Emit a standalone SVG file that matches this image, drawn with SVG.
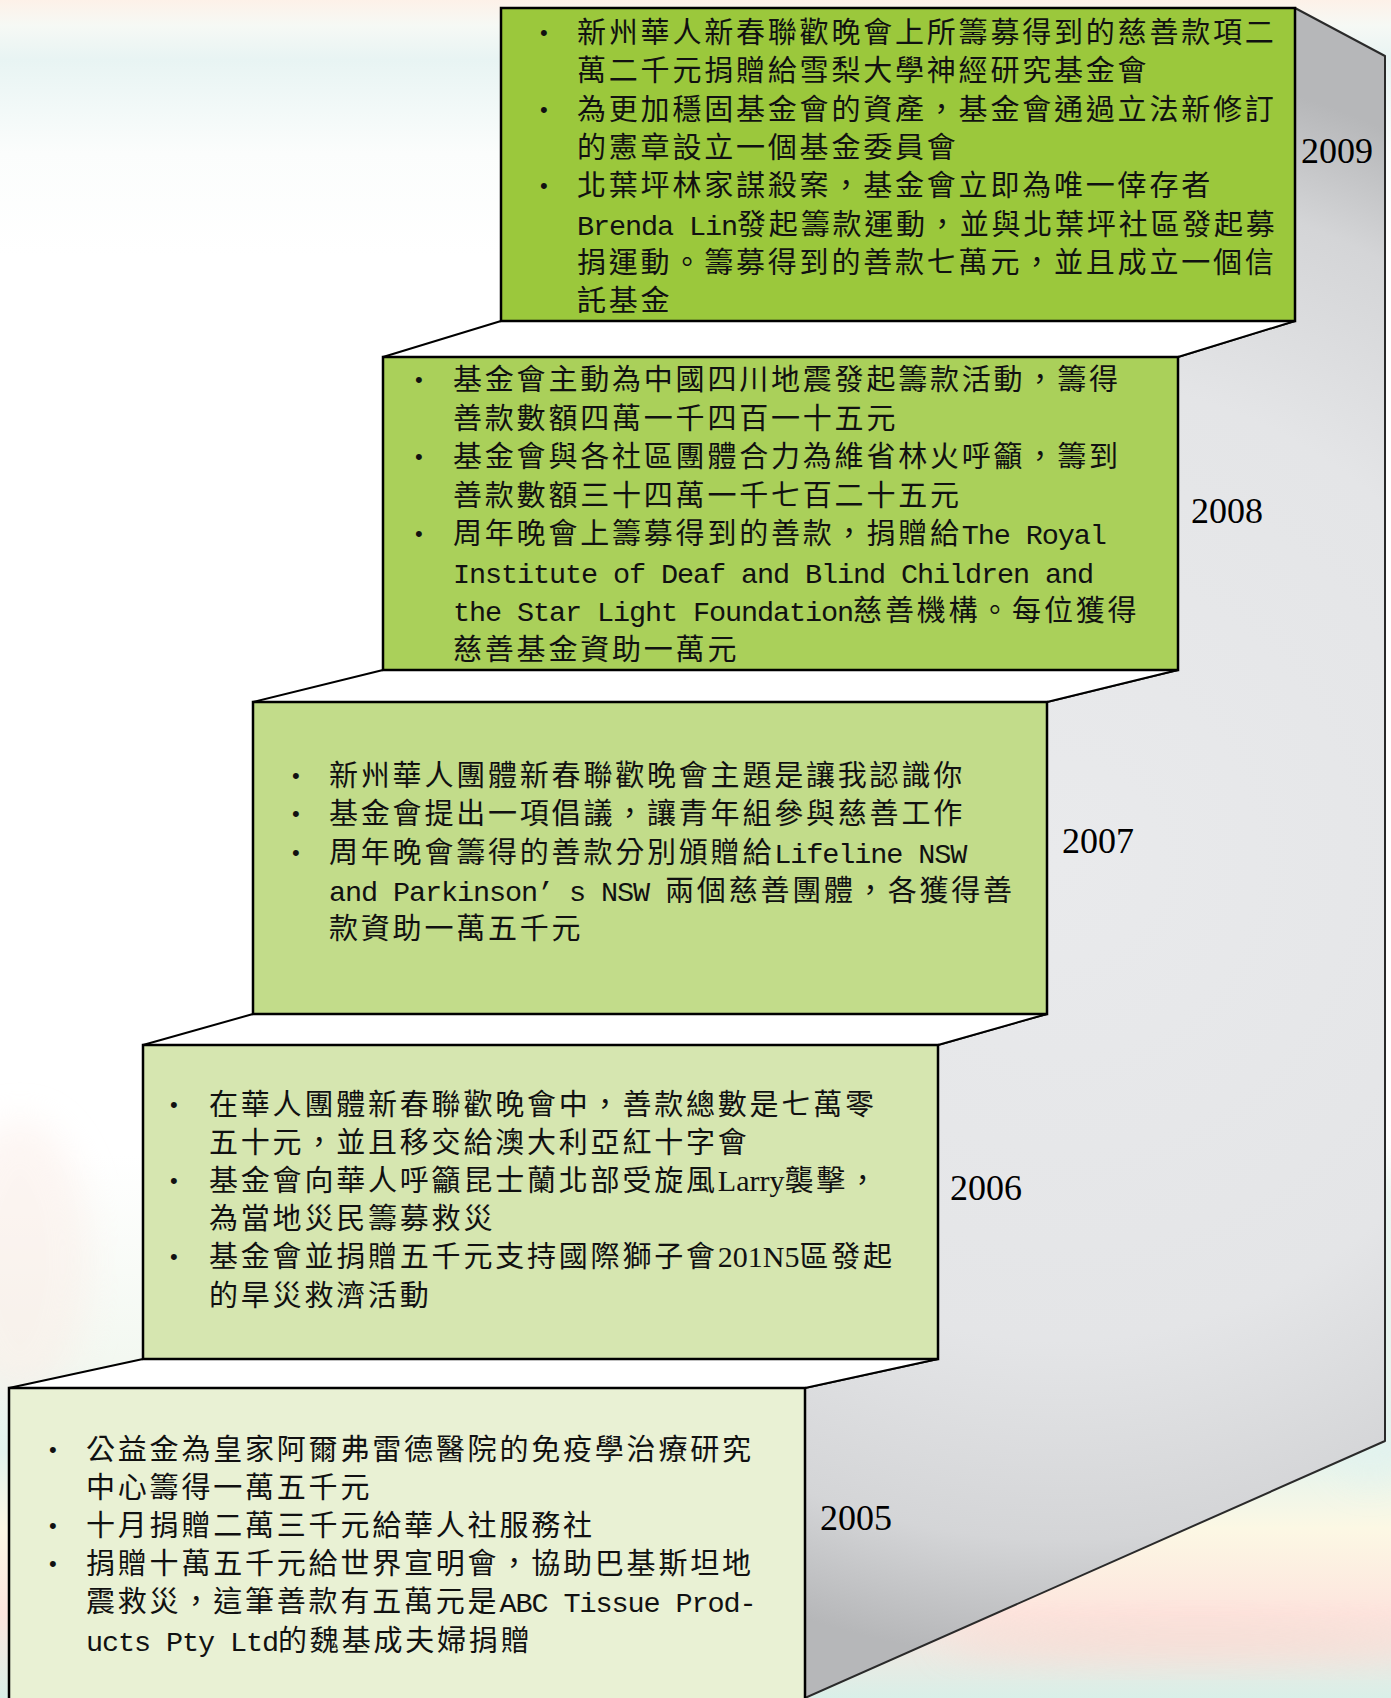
<svg xmlns="http://www.w3.org/2000/svg" width="1391" height="1698" viewBox="0 0 1391 1698">
<defs>
<style>
.t{font-family:"Noto Sans CJK TC","Noto Sans CJK SC",sans-serif;font-size:29px;letter-spacing:2.8px;fill:#111}
.m{font-family:"Liberation Mono",monospace;font-size:28.5px;letter-spacing:-1.1px}
.s{font-family:"Liberation Serif",serif;font-size:30px;letter-spacing:0}
.b{font-family:"Liberation Sans",sans-serif;font-size:22px;letter-spacing:0}
.yr{font-family:"Liberation Serif",serif;font-size:36px;fill:#000}
.box{stroke:#000;stroke-width:2.5}
.top{fill:#fff;stroke:#000;stroke-width:2;stroke-linejoin:round}
</style>
<linearGradient id="bg" x1="0" y1="0" x2="0" y2="1">
<stop offset="0" stop-color="#fdf1e8"/>
<stop offset="0.015" stop-color="#f6f9f5"/>
<stop offset="0.035" stop-color="#e8f4f3"/>
<stop offset="0.09" stop-color="#fbfdfc"/>
<stop offset="0.15" stop-color="#ffffff"/>
<stop offset="0.68" stop-color="#ffffff"/>
<stop offset="0.8" stop-color="#f3f8f1"/>
<stop offset="0.855" stop-color="#e2f3ee"/>
<stop offset="0.9" stop-color="#fcf8e4"/>
<stop offset="0.95" stop-color="#fde5de"/>
<stop offset="1" stop-color="#d9efe8"/>
</linearGradient>
<radialGradient id="gray" gradientUnits="userSpaceOnUse" cx="1060" cy="860" r="800">
<stop offset="0" stop-color="#e9eaec"/>
<stop offset="0.6" stop-color="#e4e5e7"/>
<stop offset="0.85" stop-color="#d4d5d7"/>
<stop offset="1" stop-color="#b6b7b9"/>
</radialGradient>
<filter id="blur" x="-20%" y="-50%" width="140%" height="200%"><feGaussianBlur stdDeviation="18"/></filter>
</defs>

<g id="background">
<rect x="0" y="0" width="1391" height="1698" fill="url(#bg)"/>
<ellipse cx="20" cy="1260" rx="70" ry="140" fill="#fbece6" opacity="0.5" filter="url(#blur)"/>
<ellipse cx="1370" cy="1320" rx="60" ry="160" fill="#e3f3ee" opacity="0.8" filter="url(#blur)"/>
<ellipse cx="1200" cy="1640" rx="260" ry="20" fill="#fbd9d2" opacity="0.7" filter="url(#blur)"/>
</g>

<g id="stair">
<polygon id="side" points="1295,8 1385,56 1385,1441 805,1698 805,1388 938,1359 938,1045 1047,1014 1047,702 1178,670 1178,357 1295,321" fill="url(#gray)" stroke="#2a2a2a" stroke-width="2" stroke-linejoin="round"/>
<polygon class="top" points="501,321 383,357 1178,357 1295,321"/>
<polygon class="top" points="383,670 253,702 1047,702 1178,670"/>
<polygon class="top" points="253,1014 143,1045 938,1045 1047,1014"/>
<polygon class="top" points="143,1359 9,1388 805,1388 938,1359"/>
</g>

<g id="node-2009">
<rect class="box" x="501" y="8" width="794" height="313" fill="#9bc83c"/>
<text class="t"><tspan class="b" x="540" y="40">•</tspan><tspan x="577" y="43">新州華人新春聯歡晚會上所籌募得到的慈善款項二</tspan><tspan x="577" y="81.3">萬二千元捐贈給雪梨大學神經研究基金會</tspan><tspan class="b" x="540" y="116.5">•</tspan><tspan x="577" y="119.6">為更加穩固基金會的資產，基金會通過立法新修訂</tspan><tspan x="577" y="158">的憲章設立一個基金委員會</tspan><tspan class="b" x="540" y="193.3">•</tspan><tspan x="577" y="196.3">北葉坪林家謀殺案，基金會立即為唯一倖存者</tspan><tspan x="577" y="234.6"><tspan class="m">Brenda Lin</tspan>發起籌款運動，並與北葉坪社區發起募</tspan><tspan x="577" y="273">捐運動。籌募得到的善款七萬元，並且成立一個信</tspan><tspan x="577" y="311.3">託基金</tspan></text>
<text class="yr" x="1301" y="163">2009</text>
</g>

<g id="node-2008">
<rect class="box" x="383" y="357" width="795" height="313" fill="#aad05a"/>
<text class="t"><tspan class="b" x="415" y="387">•</tspan><tspan x="453" y="390">基金會主動為中國四川地震發起籌款活動，籌得</tspan><tspan x="453" y="428.5">善款數額四萬一千四百一十五元</tspan><tspan class="b" x="415" y="464">•</tspan><tspan x="453" y="467">基金會與各社區團體合力為維省林火呼籲，籌到</tspan><tspan x="453" y="505.5">善款數額三十四萬一千七百二十五元</tspan><tspan class="b" x="415" y="541">•</tspan><tspan x="453" y="544">周年晚會上籌募得到的善款，捐贈給<tspan class="m">The Royal</tspan></tspan><tspan class="m" x="453" y="582.5">Institute of Deaf and Blind Children and</tspan><tspan x="453" y="621"><tspan class="m">the Star Light Foundation</tspan>慈善機構。每位獲得</tspan><tspan x="453" y="659.5">慈善基金資助一萬元</tspan></text>
<text class="yr" x="1191" y="523">2008</text>
</g>

<g id="node-2007">
<rect class="box" x="253" y="702" width="794" height="312" fill="#c2dc8a"/>
<text class="t"><tspan class="b" x="292" y="783">•</tspan><tspan x="329" y="786">新州華人團體新春聯歡晚會主題是讓我認識你</tspan><tspan class="b" x="292" y="821">•</tspan><tspan x="329" y="824">基金會提出一項倡議，讓青年組參與慈善工作</tspan><tspan class="b" x="292" y="859.5">•</tspan><tspan x="329" y="862.5">周年晚會籌得的善款分別頒贈給<tspan class="m">Lifeline NSW</tspan></tspan><tspan x="329" y="900.5"><tspan class="m">and Parkinson’ s NSW </tspan>兩個慈善團體，各獲得善</tspan><tspan x="329" y="938.5">款資助一萬五千元</tspan></text>
<text class="yr" x="1062" y="853">2007</text>
</g>

<g id="node-2006">
<rect class="box" x="143" y="1045" width="795" height="314" fill="#d6e6b0"/>
<text class="t"><tspan class="b" x="170" y="1111.5">•</tspan><tspan x="209" y="1114.5">在華人團體新春聯歡晚會中，善款總數是七萬零</tspan><tspan x="209" y="1152.7">五十元，並且移交給澳大利亞紅十字會</tspan><tspan class="b" x="170" y="1188">•</tspan><tspan x="209" y="1190.9">基金會向華人呼籲昆士蘭北部受旋風<tspan class="s">Larry</tspan>襲擊，</tspan><tspan x="209" y="1229.1">為當地災民籌募救災</tspan><tspan class="b" x="170" y="1264.3">•</tspan><tspan x="209" y="1267.3">基金會並捐贈五千元支持國際獅子會<tspan class="s">201N5</tspan>區發起</tspan><tspan x="209" y="1305.5">的旱災救濟活動</tspan></text>
<text class="yr" x="950" y="1200">2006</text>
</g>

<g id="node-2005">
<rect class="box" x="9" y="1388" width="796" height="320" fill="#e9f1d4"/>
<text class="t"><tspan class="b" x="49" y="1456.5">•</tspan><tspan x="86" y="1459.5">公益金為皇家阿爾弗雷德醫院的免疫學治療研究</tspan><tspan x="86" y="1497.7">中心籌得一萬五千元</tspan><tspan class="b" x="49" y="1533">•</tspan><tspan x="86" y="1535.9">十月捐贈二萬三千元給華人社服務社</tspan><tspan class="b" x="49" y="1571.1">•</tspan><tspan x="86" y="1574.1">捐贈十萬五千元給世界宣明會，協助巴基斯坦地</tspan><tspan x="86" y="1612.3">震救災，這筆善款有五萬元是<tspan class="m">ABC Tissue Prod-</tspan></tspan><tspan x="86" y="1650.5"><tspan class="m">ucts Pty Ltd</tspan>的魏基成夫婦捐贈</tspan></text>
<text class="yr" x="820" y="1530">2005</text>
</g>
</svg>
